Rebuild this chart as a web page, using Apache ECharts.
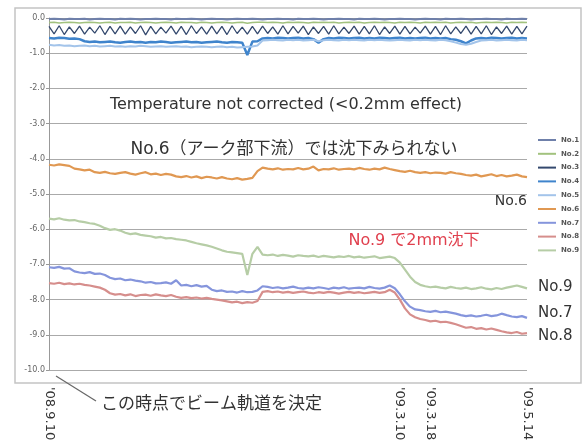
<!DOCTYPE html>
<html>
<head>
<meta charset="utf-8">
<title>沈下量</title>
<script src="https://cdn.jsdelivr.net/npm/echarts@6/dist/echarts.min.js"></script>
<style>
  html, body { margin: 0; padding: 0; background: #fff; }
  #chart { width: 585px; height: 445px; }
</style>
</head>
<body>
<div id="chart"></div>
<script>
// x軸ラベル (index -> 日付)
const tickIdx = [0, 69, 75, 94]
const tickText = ["'08.9.10", "'09.3.10", "'09.3.18", "'09.5.14"]

const seriesNames = ['No.1', 'No.2', 'No.3', 'No.4', 'No.5', 'No.6', 'No.7', 'No.8', 'No.9']
const seriesColors = ['#6f80aa', '#a2c27e', '#34496e', '#3f84cc', '#a3c4ea', '#e09852', '#8595dc', '#d68e8c', '#b6cda6']

// 上部 No.1〜No.5 (ほぼ 0 付近)
const no1 = [-0.03, -0.02, -0.03, -0.04, -0.02, -0.03, -0.03, -0.02, -0.04, -0.03,
  -0.02, -0.03, -0.03, -0.04, -0.02, -0.03, -0.02, -0.03, -0.04, -0.03,
  -0.03, -0.02, -0.03, -0.03, -0.04, -0.02, -0.03, -0.03, -0.02, -0.03,
  -0.04, -0.03, -0.02, -0.03, -0.03, -0.04, -0.03, -0.02, -0.03, -0.03,
  -0.02, -0.03, -0.04, -0.03, -0.03, -0.02, -0.03, -0.03, -0.04, -0.02,
  -0.03, -0.03, -0.02, -0.03, -0.04, -0.03, -0.03, -0.02, -0.03, -0.03,
  -0.04, -0.02, -0.03, -0.03, -0.02, -0.03, -0.04, -0.03, -0.03, -0.02,
  -0.03, -0.03, -0.04, -0.03, -0.02, -0.03, -0.03, -0.04, -0.02, -0.03,
  -0.03, -0.02, -0.03, -0.04, -0.03, -0.03, -0.02, -0.03, -0.03, -0.04,
  -0.02, -0.03, -0.03, -0.02, -0.03]
const no2 = [-0.13, -0.12, -0.14, -0.13, -0.12, -0.13, -0.14, -0.13, -0.12, -0.13,
  -0.14, -0.13, -0.12, -0.14, -0.13, -0.13, -0.12, -0.14, -0.13, -0.12,
  -0.13, -0.14, -0.13, -0.12, -0.13, -0.14, -0.12, -0.13, -0.13, -0.14,
  -0.12, -0.13, -0.14, -0.13, -0.12, -0.13, -0.14, -0.13, -0.12, -0.15,
  -0.13, -0.12, -0.12, -0.13, -0.12, -0.13, -0.14, -0.12, -0.13, -0.12,
  -0.13, -0.14, -0.12, -0.13, -0.12, -0.13, -0.12, -0.14, -0.13, -0.12,
  -0.13, -0.12, -0.14, -0.13, -0.12, -0.13, -0.12, -0.13, -0.14, -0.12,
  -0.13, -0.12, -0.13, -0.14, -0.12, -0.13, -0.12, -0.13, -0.12, -0.14,
  -0.13, -0.12, -0.13, -0.12, -0.14, -0.13, -0.12, -0.13, -0.12, -0.13,
  -0.14, -0.12, -0.13, -0.12, -0.13]
const no3 = [-0.24, -0.45, -0.22, -0.47, -0.25, -0.44, -0.23, -0.46, -0.26, -0.43,
  -0.22, -0.47, -0.24, -0.45, -0.23, -0.46, -0.25, -0.44, -0.22, -0.48,
  -0.24, -0.45, -0.26, -0.43, -0.23, -0.46, -0.24, -0.47, -0.22, -0.44,
  -0.25, -0.46, -0.23, -0.45, -0.24, -0.47, -0.22, -0.44, -0.26, -0.46,
  -0.24, -0.45, -0.23, -0.44, -0.25, -0.46, -0.22, -0.45, -0.24, -0.43,
  -0.23, -0.47, -0.25, -0.44, -0.24, -0.46, -0.22, -0.45, -0.26, -0.44,
  -0.23, -0.46, -0.24, -0.45, -0.22, -0.47, -0.25, -0.44, -0.23, -0.46,
  -0.24, -0.45, -0.26, -0.43, -0.23, -0.46, -0.24, -0.47, -0.22, -0.45,
  -0.25, -0.44, -0.23, -0.46, -0.24, -0.45, -0.22, -0.47, -0.25, -0.44,
  -0.23, -0.46, -0.24, -0.45, -0.23]
const no4 = [-0.57, -0.58, -0.56, -0.57, -0.59, -0.58, -0.6, -0.66, -0.68, -0.67,
  -0.69, -0.68, -0.67, -0.69, -0.7, -0.68, -0.67, -0.69, -0.68, -0.7,
  -0.68, -0.69, -0.67, -0.68, -0.7, -0.69, -0.68, -0.67, -0.69, -0.68,
  -0.7, -0.69, -0.68, -0.67, -0.69, -0.7, -0.68, -0.69, -0.7, -1.05,
  -0.67, -0.66, -0.58, -0.57, -0.58, -0.56, -0.57, -0.58, -0.57, -0.56,
  -0.58, -0.57, -0.6, -0.7, -0.6, -0.57, -0.58, -0.56, -0.57, -0.58,
  -0.57, -0.56, -0.58, -0.57, -0.58, -0.56, -0.57, -0.58, -0.57, -0.56,
  -0.58, -0.57, -0.58, -0.57, -0.56, -0.58, -0.57, -0.58, -0.57, -0.6,
  -0.62, -0.66, -0.72, -0.64, -0.58, -0.57, -0.58, -0.56, -0.57, -0.58,
  -0.57, -0.56, -0.58, -0.57, -0.58]
const no5 = [-0.76, -0.78, -0.77, -0.79, -0.78, -0.8, -0.79, -0.78, -0.8, -0.79,
  -0.81, -0.8, -0.79, -0.81, -0.8, -0.82, -0.8, -0.81, -0.79, -0.8,
  -0.82, -0.81, -0.8, -0.82, -0.81, -0.8, -0.82, -0.81, -0.83, -0.82,
  -0.81, -0.82, -0.83, -0.82, -0.81, -0.83, -0.82, -0.84, -0.83, -0.82,
  -0.81, -0.78, -0.64, -0.63, -0.62, -0.63, -0.64, -0.62, -0.63, -0.62,
  -0.64, -0.63, -0.62, -0.66, -0.63, -0.62, -0.63, -0.64, -0.62, -0.63,
  -0.62, -0.63, -0.64, -0.62, -0.63, -0.62, -0.63, -0.64, -0.63, -0.62,
  -0.63, -0.64, -0.62, -0.63, -0.62, -0.63, -0.64, -0.62, -0.63, -0.66,
  -0.7, -0.74, -0.76, -0.73, -0.68, -0.64, -0.63, -0.62, -0.64, -0.63,
  -0.62, -0.63, -0.64, -0.62, -0.63]

// No.6 アーク部下流
const no6 = [-4.17, -4.19, -4.16, -4.18, -4.2,
  -4.28, -4.3, -4.33, -4.31,
  -4.38, -4.4, -4.37, -4.41, -4.43, -4.4, -4.38,
  -4.42, -4.45, -4.41, -4.38, -4.44, -4.42, -4.46, -4.43, -4.45,
  -4.5, -4.52, -4.49, -4.53, -4.5, -4.55, -4.51, -4.53, -4.56, -4.52,
  -4.56, -4.58, -4.55, -4.59, -4.57, -4.54,
  -4.35, -4.25,
  -4.28, -4.3, -4.27, -4.31, -4.29, -4.3, -4.26, -4.3, -4.28, -4.22,
  -4.33, -4.29, -4.3, -4.27, -4.31, -4.29, -4.28, -4.3, -4.26, -4.29,
  -4.31, -4.28, -4.3, -4.25, -4.29, -4.32,
  -4.35, -4.37, -4.34, -4.38, -4.4, -4.38, -4.41, -4.39, -4.4, -4.42, -4.38, -4.41, -4.43,
  -4.46, -4.48, -4.45, -4.5, -4.47, -4.44, -4.49, -4.46, -4.5, -4.48, -4.45, -4.5, -4.52]

const no7 = [-7.08, -7.1, -7.07, -7.12, -7.11,
  -7.2, -7.23, -7.25, -7.22, -7.27, -7.26, -7.3,
  -7.38, -7.42, -7.4, -7.45, -7.43, -7.46, -7.48,
  -7.52, -7.5, -7.54, -7.53, -7.51, -7.55,
  -7.45, -7.6, -7.58, -7.62, -7.59, -7.63, -7.61,
  -7.72, -7.76, -7.74, -7.78, -7.77, -7.8, -7.76, -7.79, -7.78, -7.74,
  -7.62,
  -7.64, -7.67, -7.65, -7.68, -7.66, -7.63, -7.67, -7.69, -7.66, -7.68,
  -7.65, -7.67, -7.7, -7.66, -7.68, -7.65, -7.69, -7.67, -7.66, -7.68,
  -7.64, -7.67, -7.69, -7.66, -7.6, -7.68,
  -7.85, -8.05, -8.2, -8.28, -8.3,
  -8.33, -8.35, -8.32, -8.36, -8.34, -8.37, -8.4,
  -8.44, -8.47, -8.45, -8.48, -8.46, -8.43, -8.47, -8.45, -8.4, -8.44, -8.48, -8.5, -8.47, -8.52]

const no8 = [-7.53, -7.55, -7.52, -7.56, -7.54, -7.57, -7.55, -7.58, -7.6,
  -7.63, -7.66, -7.72,
  -7.82, -7.86, -7.84, -7.88, -7.85, -7.9, -7.87, -7.86, -7.89, -7.85, -7.88, -7.9, -7.87,
  -7.92, -7.95, -7.93, -7.96, -7.94, -7.97, -7.95, -7.98, -8.0, -8.02,
  -8.05, -8.08, -8.06, -8.1, -8.07, -8.09, -8.04,
  -7.78,
  -7.76, -7.79, -7.77, -7.8, -7.78, -7.81, -7.79, -7.77, -7.8, -7.82,
  -7.79, -7.81, -7.78, -7.8, -7.83, -7.8, -7.78, -7.81, -7.79, -7.82,
  -7.8, -7.78, -7.81, -7.79, -7.72, -7.8,
  -8.0, -8.25, -8.42, -8.5, -8.55,
  -8.58, -8.62, -8.6, -8.64, -8.63, -8.66, -8.7,
  -8.75, -8.8, -8.78, -8.83, -8.81, -8.85, -8.82, -8.86,
  -8.9, -8.93, -8.95, -8.92, -8.97, -8.95]

const no9 = [-5.7, -5.72, -5.69, -5.73, -5.75, -5.74, -5.78,
  -5.8, -5.83, -5.85, -5.9,
  -5.97, -6.02, -6.0, -6.04,
  -6.1, -6.14, -6.12, -6.16, -6.18,
  -6.2, -6.24, -6.22, -6.26, -6.25, -6.28, -6.3, -6.32,
  -6.36, -6.4, -6.43, -6.46, -6.5, -6.55,
  -6.6, -6.64, -6.66, -6.68, -6.7, -7.3,
  -6.7, -6.5, -6.72,
  -6.74, -6.72, -6.76, -6.73, -6.75, -6.78, -6.74, -6.76, -6.77, -6.75,
  -6.79, -6.76, -6.78, -6.8, -6.77, -6.79, -6.76, -6.8, -6.78, -6.81,
  -6.79, -6.77, -6.82, -6.8, -6.78, -6.82,
  -6.95, -7.15, -7.35, -7.5, -7.58,
  -7.62, -7.65, -7.63, -7.66, -7.68, -7.64, -7.67, -7.69, -7.66, -7.7, -7.68,
  -7.65, -7.69, -7.71, -7.67, -7.7, -7.66, -7.63, -7.6, -7.64, -7.68]

const seriesData = [no1, no2, no3, no4, no5, no6, no7, no8, no9]
const lineWidths = [2, 1.5, 1.3, 2.5, 2, 2.2, 2.2, 2.2, 2.2]

const xIndex = no6.map((v, i) => i)

const chart = echarts.init(document.getElementById('chart'), null, { renderer: 'canvas' })

const font = '"DejaVu Sans", "Noto Sans CJK JP", sans-serif'

chart.setOption({
  animation: false,
  backgroundColor: '#fff',
  grid: {
    left: 49,
    right: 58,
    top: 18,
    bottom: 75
  },
  legend: {
    orient: 'vertical',
    left: 533,
    top: 131,
    icon: 'rect',
    itemWidth: 18,
    itemHeight: 2,
    itemGap: 5.8,
    textStyle: {
      color: '#555',
      fontSize: 7,
      lineHeight: 8,
      fontWeight: 'bold',
      fontFamily: font
    },
    data: seriesNames
  },
  xAxis: {
    type: 'category',
    data: xIndex,
    boundaryGap: false,
    axisLine: { show: true, lineStyle: { color: '#999' } },
    axisTick: { show: false },
    splitLine: { show: false },
    axisLabel: {
      rotate: -90,
      margin: 17,
      fontSize: 13,
      color: '#333',
      fontFamily: font,
      interval: (i) => tickIdx.includes(i),
      formatter: (v, i) => {
        const k = tickIdx.indexOf(i)
        return k >= 0 ? tickText[k] : ''
      }
    }
  },
  yAxis: {
    type: 'value',
    min: -10,
    max: 0,
    interval: 1,
    axisLine: { show: true, lineStyle: { color: '#999' } },
    axisTick: { show: true, length: 3, lineStyle: { color: '#999' } },
    splitLine: { show: true, lineStyle: { color: '#aaa', width: 1 } },
    axisLabel: {
      fontSize: 8,
      color: '#666',
      margin: 4,
      fontFamily: font,
      formatter: (v) => v.toFixed(1)
    }
  },
  series: seriesNames.map((name, k) => ({
    name: name,
    type: 'line',
    data: seriesData[k],
    symbol: 'none',
    color: seriesColors[k],
    lineStyle: { color: seriesColors[k], width: lineWidths[k] }
  })),
  graphic: [
    {
      // 外枠
      type: 'rect',
      shape: { x: 15, y: 8, width: 566, height: 375 },
      style: { fill: 'none', stroke: '#c4c4c4', lineWidth: 1.5 },
      z: -1
    },
    {
      type: 'text',
      x: 286, y: 105,
      style: {
        text: 'Temperature not corrected (<0.2mm effect)',
        font: '16px ' + font, fill: '#333', align: 'center', verticalAlign: 'middle'
      }
    },
    {
      type: 'text',
      x: 294, y: 150,
      style: {
        text: 'No.6（アーク部下流）では沈下みられない',
        font: '17px ' + font, fill: '#333', align: 'center', verticalAlign: 'middle'
      }
    },
    {
      type: 'text',
      x: 527, y: 201,
      style: { text: 'No.6', font: '14px ' + font, fill: '#333', align: 'right', verticalAlign: 'middle' }
    },
    {
      type: 'text',
      x: 414, y: 241,
      style: { text: 'No.9 で2mm沈下', font: '16px ' + font, fill: '#e0404e', align: 'center', verticalAlign: 'middle' }
    },
    {
      type: 'text',
      x: 538, y: 287,
      style: { text: 'No.9', font: '15px ' + font, fill: '#333', verticalAlign: 'middle' }
    },
    {
      type: 'text',
      x: 538, y: 313,
      style: { text: 'No.7', font: '15px ' + font, fill: '#333', verticalAlign: 'middle' }
    },
    {
      type: 'text',
      x: 538, y: 336,
      style: { text: 'No.8', font: '15px ' + font, fill: '#333', verticalAlign: 'middle' }
    },
    {
      type: 'line',
      shape: { x1: 56, y1: 376, x2: 96, y2: 401 },
      style: { stroke: '#666', lineWidth: 1.2 }
    },
    {
      type: 'text',
      x: 101, y: 405,
      style: { text: 'この時点でビーム軌道を決定', font: '17px ' + font, fill: '#333', verticalAlign: 'middle' }
    }
  ]
})
</script>
</body>
</html>
